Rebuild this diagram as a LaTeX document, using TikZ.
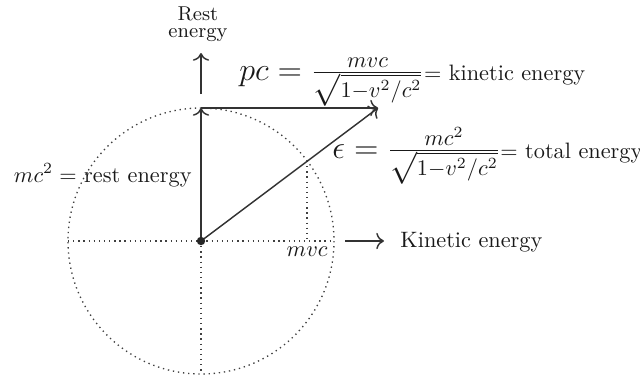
\documentclass[tikz,border=0pt]{standalone}
\usetikzlibrary{arrows.meta}
\begin{document}
\begin{tikzpicture}[x=0.4484pt,y=-0.4484pt,
  ln/.style={line width=0.65pt, draw=black!80},
  arr/.style={ln, -{To[scale=1.15]}},
  dots/.style={line width=0.6pt, draw=black!75, dash pattern=on 0.6pt off 1.7pt},
  lbl/.style={inner sep=0pt, text=black!90}
]
\useasboundingbox (0,0) rectangle (640,376);
% key points
\coordinate (O) at (201,241);
\coordinate (T) at (201,108);
\coordinate (P) at (378,108);
\coordinate (L) at (68,241);
\coordinate (R) at (334,241);
\coordinate (B) at (201,374);
\coordinate (M) at (307,161);
\coordinate (F) at (307,241);
\coordinate (U1) at (201,94);
\coordinate (U2) at (201,53);
\coordinate (K1) at (345,241);
\coordinate (K2) at (384,241);
% dotted construction
\draw[dots] (O) circle[radius=133];
\draw[dots] (L) -- (R);
\draw[dots] (O) -- (B);
\draw[dots] (M) -- (F);
% vectors
\draw[arr] (O) -- (T);
\draw[arr] (T) -- (P);
\draw[arr] (O) -- (P);
\draw[arr] (U1) -- (U2);
\draw[arr] (K1) -- (K2);
\fill[black!85] (O) circle[radius=4.2];
% labels
\node[lbl, font=\small, align=center] (rest) at (198,24) {Rest\\[-3.5pt]energy};
\node[lbl, anchor=base west] (pc) at (239,80) {{\Large$pc = \frac{mvc}{\sqrt{1-v^2/c^2}}$}= kinetic energy};
\node[lbl, anchor=base west] (eps) at (332,158) {{\Large$\epsilon = \frac{mc^2}{\sqrt{1-v^2/c^2}}$}= total energy};
\node[lbl, anchor=base east] (mc) at (192,182) {$mc^2 =$ rest energy};
\node[lbl, anchor=base east] (mvc) at (328,256) {$mvc$};
\node[lbl, anchor=base west] (kin) at (400,247) {Kinetic energy};
\end{tikzpicture}
\end{document}
